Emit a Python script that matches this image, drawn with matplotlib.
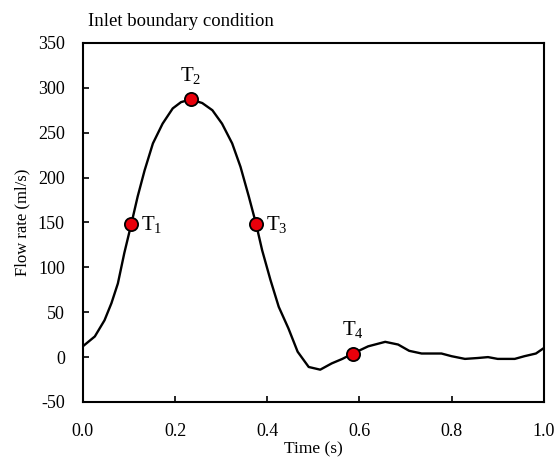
import matplotlib
matplotlib.use("Agg")
import matplotlib.pyplot as plt
import numpy as np

# flow waveform
time_s = [0.0, 0.026, 0.047, 0.062, 0.076, 0.09, 0.105, 0.119, 0.134, 0.152,
          0.173, 0.195, 0.213, 0.234, 0.259, 0.281, 0.302, 0.324, 0.342, 0.36,
          0.376, 0.389, 0.407, 0.425, 0.446, 0.466, 0.49, 0.515, 0.54, 0.563,
          0.586, 0.619, 0.656, 0.684, 0.708, 0.735, 0.778, 0.8, 0.829, 0.857,
          0.879, 0.9, 0.937, 0.958, 0.983, 1.0]
flow_rate = [12, 23, 41, 60, 82, 116, 148, 179, 208, 238,
             260, 277, 284, 287, 283, 275, 260, 238, 212, 179,
             148, 119, 86, 56, 32, 6, -11, -14, -7, -2,
             4, 12, 17, 14, 7, 4, 4, 1, -2, -1,
             0, -2, -2, 1, 4, 10]

# highlighted instants
point_labels = ["1", "2", "3", "4"]
point_t = [0.105, 0.234, 0.376, 0.586]
point_q = [148, 287, 148, 4]

plt.rcParams["font.family"] = ["Liberation Serif", "DejaVu Serif"]
plt.rcParams["mathtext.fontset"] = "custom"
plt.rcParams["mathtext.rm"] = "Liberation Serif"
plt.rcParams["axes.unicode_minus"] = False

fig = plt.figure(figsize=(5.56, 4.61), dpi=100)
ax = fig.add_axes([0.149, 0.128, 0.829, 0.779])

ax.plot(time_s, flow_rate, color="black", linewidth=1.7, zorder=2,
        solid_joinstyle="round")
ax.plot(point_t, point_q, "o", markersize=9.5, markerfacecolor="#e8000b",
        markeredgecolor="black", markeredgewidth=1.3, zorder=3)

# label offsets (points) for each marker
offsets = [(7, -1), (0, 17), (7, -1), (0, 17)]
for lab, t, q, off in zip(point_labels, point_t, point_q, offsets):
    ha = "left" if off[0] else "center"
    ax.annotate("T$_{\\mathrm{" + lab + "}}$", xy=(t, q), xytext=off,
                textcoords="offset points", ha=ha, va="center", fontsize=15)

ax.set_xlim(0, 1.0)
ax.set_ylim(-50, 350)
ax.set_xticks(np.arange(0, 1.01, 0.2))
ax.set_yticks(np.arange(-50, 351, 50))
ax.set_xticklabels([f"{v:.1f}" for v in np.arange(0, 1.01, 0.2)])
ax.tick_params(direction="in", length=4, width=1.2, labelsize=13)
ax.tick_params(axis="x", pad=15)
ax.tick_params(axis="y", pad=13)
for s in ax.spines.values():
    s.set_linewidth(1.5)

ax.set_xlabel("Time (s)", fontsize=12.5, labelpad=1)
ax.set_ylabel("Flow rate (ml/s)", fontsize=12, labelpad=5)
ax.text(0.012, 1.06, "Inlet boundary condition", transform=ax.transAxes,
        fontsize=13.5, ha="left", va="center")

fig.savefig("out.png", dpi=100)
